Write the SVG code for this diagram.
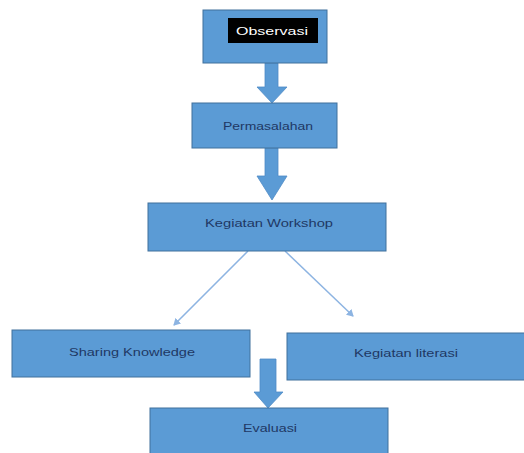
<svg xmlns="http://www.w3.org/2000/svg" width="524" height="453" viewBox="0 0 524 453">
<style>
.box{fill:#5b9bd5;stroke:#41719c;stroke-width:1}
.t{font-family:"Liberation Sans",Arial,sans-serif;font-size:11px;fill:#1f3864;text-anchor:middle;dominant-baseline:central}
.big{fill:#5b9bd5;stroke:#4f8cc6;stroke-width:0.8}
.ln{stroke:#8db4e2;stroke-width:1.5;fill:none;marker-end:url(#ah)}
</style>
<defs>
<marker id="ah" markerWidth="8" markerHeight="8" refX="6" refY="4" orient="auto" markerUnits="userSpaceOnUse">
<path d="M0,0 L7,4 L0,8 Z" fill="#8db4e2"/>
</marker>
</defs>
<g id="connectors">
<path class="big" d="M265,63 H278 V87 H287 L272,103 L257,87 H265 Z"/>
<path class="big" d="M265,148 H278 V176 H287 L272,200 L257,176 H265 Z"/>
<path class="ln" d="M248,251 L174,325"/>
<path class="ln" d="M285,251 L353,316"/>
<path class="big" d="M260,359 H276 V392 H283 L268,408 L254,392 H260 Z"/>
</g>
<g id="observasi">
<rect class="box" x="203" y="10" width="124" height="53"/>
<rect x="228" y="18" width="90" height="25" fill="#000"/>
<text class="t" x="272" y="31" fill="#fff" style="fill:#fff" textLength="72" lengthAdjust="spacingAndGlyphs">Observasi</text>
</g>
<g id="permasalahan">
<rect class="box" x="192" y="103" width="145" height="45"/>
<text class="t" x="268" y="126" textLength="90" lengthAdjust="spacingAndGlyphs">Permasalahan</text>
</g>
<g id="workshop">
<rect class="box" x="148" y="203" width="238" height="48"/>
<text class="t" x="269" y="223" textLength="128" lengthAdjust="spacingAndGlyphs">Kegiatan Workshop</text>
</g>
<g id="sharing">
<rect class="box" x="12" y="330" width="238" height="47"/>
<text class="t" x="132" y="352" textLength="126" lengthAdjust="spacingAndGlyphs">Sharing Knowledge</text>
</g>
<g id="literasi">
<rect class="box" x="287" y="333" width="240" height="47"/>
<text class="t" x="406" y="353" textLength="104" lengthAdjust="spacingAndGlyphs">Kegiatan literasi</text>
</g>
<g id="evaluasi">
<rect class="box" x="150" y="408" width="238" height="47"/>
<text class="t" x="270" y="428" textLength="54" lengthAdjust="spacingAndGlyphs">Evaluasi</text>
</g>
</svg>
